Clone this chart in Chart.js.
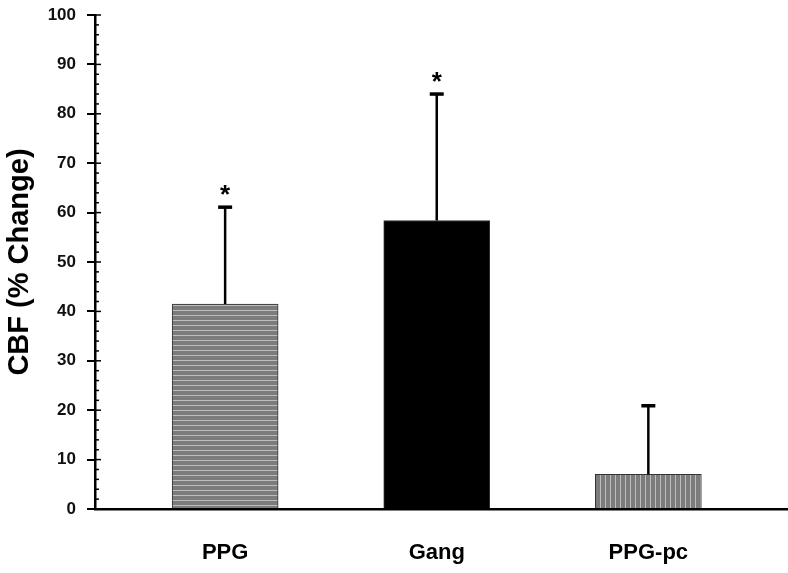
<!DOCTYPE html>
<html>
<head>
<meta charset="utf-8">
<script src="https://cdn.jsdelivr.net/npm/chart.js@4"></script>
<style>
  html, body { margin: 0; padding: 0; background: #fff; }
  #wrap { width: 788px; height: 573px; }
</style>
</head>
<body>
<div id="wrap"><canvas id="cbf"></canvas></div>
<script>
const categories = ["PPG", "Gang", "PPG-pc"];
const means = [41.5, 58.4, 7.0];
const errUp = [19.6, 25.6, 13.9];
const starred = [true, true, false];
const yTicks = [0, 10, 20, 30, 40, 50, 60, 70, 80, 90, 100];

function stripes(vertical) {
    const c = document.createElement("canvas");
    c.width = 5; c.height = 5;
    const g = c.getContext("2d");
    g.fillStyle = "#7c7c7c";
    g.fillRect(0, 0, 5, 5);
    g.fillStyle = "#bdbdbd";
    if (vertical) g.fillRect(0, 0, 1, 5);
    else g.fillRect(0, 0, 5, 1);
    return g.createPattern(c, "repeat");
}

const fills = [stripes(false), "#000000", stripes(true)];

const extras = {
    id: "extras",
    afterDatasetsDraw(chart) {
        const ctx = chart.ctx;
        const x = chart.scales.x, y = chart.scales.y;
        ctx.save();
        // error bars
        ctx.strokeStyle = "#000";
        means.forEach((m, i) => {
            const px = x.getPixelForValue(i);
            const top = y.getPixelForValue(m + errUp[i]);
            ctx.lineWidth = 2.5;
            ctx.beginPath();
            ctx.moveTo(px, y.getPixelForValue(m));
            ctx.lineTo(px, top);
            ctx.stroke();
            ctx.lineWidth = 3.5;
            ctx.beginPath();
            ctx.moveTo(px - 7, top);
            ctx.lineTo(px + 7, top);
            ctx.stroke();
            if (starred[i]) {
                ctx.fillStyle = "#000";
                ctx.font = "bold 26px Arial, 'Liberation Sans', sans-serif";
                ctx.textAlign = "center";
                ctx.textBaseline = "middle";
                ctx.fillText("*", px, top - 11);
            }
        });
        // minor ticks on inner side of y axis
        const ax = x.left;
        ctx.lineWidth = 1.5;
        for (let v = 0; v <= 100; v += 2) {
            const py = y.getPixelForValue(v);
            ctx.beginPath();
            ctx.moveTo(ax, py);
            ctx.lineTo(ax + (v % 10 === 0 ? 6 : 4), py);
            ctx.stroke();
        }
        ctx.restore();
    }
};

new Chart(
    document.getElementById("cbf"),
    {
        type: "bar",
        data: {
            datasets: [
                {
                    data: means.map((v, i) => ({ x: i, y: v })),
                    backgroundColor: fills,
                    borderColor: "#333",
                    borderWidth: 1,
                    barThickness: 106
                }
            ]
        },
        plugins: [extras],
        options: {
            responsive: true,
            maintainAspectRatio: false,
            animation: false,
            layout: { padding: { top: 15, right: 0, left: 0, bottom: 0 } },
            plugins: {
                legend: { display: false },
                tooltip: { enabled: false }
            },
            scales: {
                x: {
                    type: "linear",
                    offset: false,
                    min: -0.615,
                    max: 2.66,
                    afterFit: s => { s.height = 64; s.paddingLeft = 0; s.paddingRight = 0; },
                    afterBuildTicks: s => { s.ticks = categories.map((c, i) => ({ value: i })); },
                    grid: { display: false, offset: false },
                    border: { display: true, color: "#000", width: 2.5 },
                    ticks: {
                        callback: v => categories[v],
                        color: "#000",
                        padding: 23,
                        maxRotation: 0,
                        font: { family: "Arial, 'Liberation Sans', sans-serif", size: 22, weight: "bold" }
                    }
                },
                y: {
                    min: 0,
                    max: 100,
                    afterFit: s => { s.width = 95; s.paddingTop = 0; s.paddingBottom = 0; },
                    afterBuildTicks: s => { s.ticks = yTicks.map(v => ({ value: v })); },
                    grid: { display: true, drawOnChartArea: false, drawTicks: true, tickLength: 8, color: "#000", lineWidth: 2 },
                    border: { display: true, color: "#000", width: 2.5 },
                    title: {
                        display: true,
                        text: "CBF (% Change)",
                        color: "#000",
                        padding: { top: 3, bottom: 0 },
                        font: { family: "Arial, 'Liberation Sans', sans-serif", size: 29, weight: "bold" }
                    },
                    ticks: {
                        color: "#111",
                        padding: 11,
                        font: { family: "Arial, 'Liberation Sans', sans-serif", size: 17, weight: "bold" }
                    }
                }
            }
        }
    }
);
</script>
</body>
</html>
